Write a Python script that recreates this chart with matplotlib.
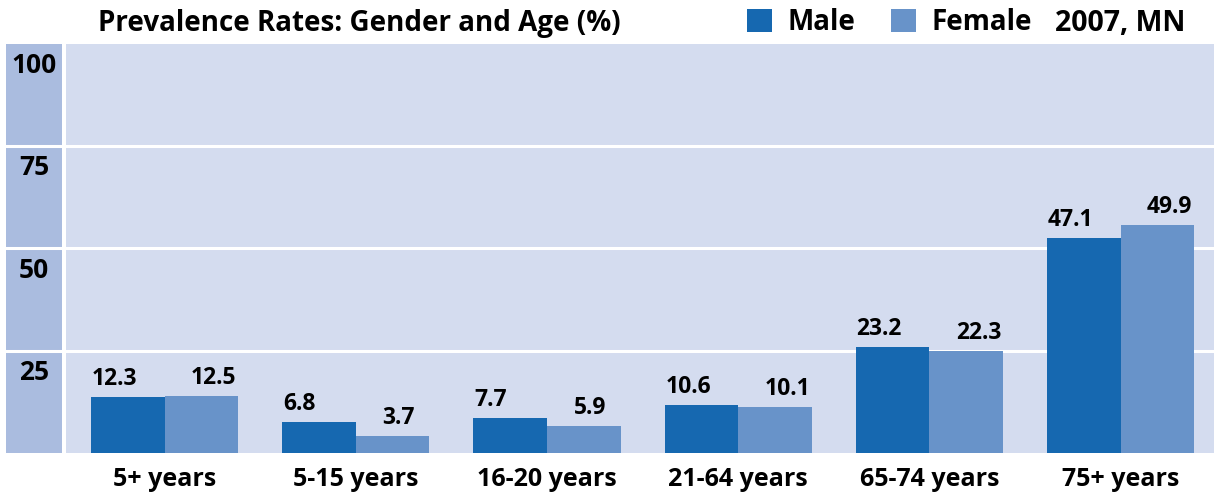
import matplotlib
matplotlib.use("Agg")
import matplotlib.pyplot as plt
import numpy as np

# Data
categories = ["5+ years", "5-15 years", "16-20 years", "21-64 years", "65-74 years", "75+ years"]
male = [12.3, 6.8, 7.7, 10.6, 23.2, 47.1]
female = [12.5, 3.7, 5.9, 10.1, 22.3, 49.9]
band_labels = ["100", "75", "50", "25"]

male_color = "#1668b0"
female_color = "#6893c9"
bg_color = "#d4dcef"
col_color = "#aabcdf"

plt.rcParams["font.family"] = ["Open Sans", "DejaVu Sans"]
plt.rcParams["font.weight"] = "bold"

W, H = 1214, 494
fig = plt.figure(figsize=(W / 100, H / 100), dpi=100)

# main plot area and left label column (pixel boxes)
ax = fig.add_axes([66 / W, 41 / H, (W - 66) / W, 409 / H])
axl = fig.add_axes([6 / W, 41 / H, 56 / W, 409 / H])

x = np.arange(len(categories))
w = 0.385
ax.set_facecolor(bg_color)
ax.bar(x - w / 2, male, w, color=male_color, label="Male", zorder=3)
ax.bar(x + w / 2, female, w, color=female_color, label="Female", zorder=3)
ax.set_xlim(-0.516, 5.488)
ax.set_ylim(0, 89.5)

# value labels, left-aligned near each bar's left edge
for i in range(len(categories)):
    ax.annotate(f"{male[i]}", (x[i] - w, male[i]), xytext=(0.5, 8.5),
                textcoords="offset points", ha="left", va="baseline",
                fontsize=16.5, fontweight="bold", zorder=4)
    ax.annotate(f"{female[i]}", (x[i], female[i]), xytext=(19, 8.5),
                textcoords="offset points", ha="left", va="baseline",
                fontsize=16.5, fontweight="bold", zorder=4)

ax.set_xticks(x)
ax.set_xticklabels(categories, fontsize=18, fontweight="bold")
ax.tick_params(axis="x", length=0, pad=10)
ax.set_yticks([])
for s in ax.spines.values():
    s.set_visible(False)

# left column with band labels
axl.set_facecolor(col_color)
axl.set_xticks([])
axl.set_yticks([])
for s in axl.spines.values():
    s.set_visible(False)
tops = [1.0, 0.75, 0.5, 0.25]
for lab, t in zip(band_labels, tops):
    axl.text(0.5, t - 29 / 409, lab, transform=axl.transAxes, ha="center",
             va="baseline", fontsize=19, fontweight="bold")

# white band separators
for t in [0.25, 0.5, 0.75]:
    ax.axhline(t * 89.5, color="white", lw=2.2, zorder=2)
    axl.axhline(t, color="white", lw=2.2, zorder=2)

fig.text(359 / W, (H - 31) / H, "Prevalence Rates: Gender and Age (%)",
         ha="center", va="baseline", fontsize=20, fontweight="bold")

fs = 20
px = fs * 100 / 72
fig.legend(loc="center left", bbox_to_anchor=(747 / W, (H - 23) / H), ncol=2,
           frameon=False, borderpad=0, borderaxespad=0,
           handlelength=25 / px, handleheight=25 / px, handletextpad=16 / px,
           columnspacing=35 / px, prop={"weight": "bold", "size": fs})
fig.text(1185 / W, (H - 31) / H, "2007, MN", ha="right", va="baseline",
         fontsize=20.5, fontweight="bold")

fig.savefig("out.png", dpi=100)
